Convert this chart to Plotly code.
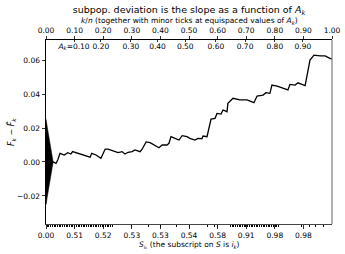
import plotly.graph_objects as go

# ---- data ----
kn = [0.0, 0.0234, 0.035, 0.041, 0.049, 0.064, 0.076, 0.087, 0.093, 0.111, 0.128, 0.146,
      0.154, 0.160, 0.175, 0.192, 0.207, 0.217, 0.234, 0.252, 0.266, 0.276, 0.287, 0.301,
      0.311, 0.329, 0.336, 0.350, 0.364, 0.381, 0.395, 0.406, 0.423, 0.430, 0.437, 0.451,
      0.465, 0.476, 0.493, 0.503, 0.521, 0.531, 0.545, 0.549, 0.563, 0.577, 0.591, 0.598,
      0.612, 0.619, 0.633, 0.636, 0.654, 0.678, 0.703, 0.727, 0.738, 0.759, 0.769, 0.783,
      0.790, 0.808, 0.829, 0.846, 0.853, 0.871, 0.881, 0.906, 0.923, 0.937, 0.958, 0.976,
      0.993, 1.0]
dev = [0.0, 0.0002, -0.0008, 0.0012, 0.0051, 0.0041, 0.0055, 0.0047, 0.0061, 0.0051, 0.0045,
       0.0035, 0.0028, 0.0051, 0.0041, 0.0022, 0.0076, 0.0076, 0.0065, 0.0055, 0.0061, 0.0047,
       0.0057, 0.0061, 0.0071, 0.0061, 0.0075, 0.0118, 0.0114, 0.0100, 0.0084, 0.0100, 0.0100,
       0.0110, 0.0149, 0.0139, 0.0129, 0.0155, 0.0149, 0.0139, 0.0129, 0.0139, 0.0137, 0.0153,
       0.0149, 0.0253, 0.0257, 0.0286, 0.0282, 0.0306, 0.0296, 0.0345, 0.0375, 0.0365, 0.0365,
       0.0349, 0.0388, 0.0394, 0.0408, 0.0404, 0.0453, 0.0447, 0.0434, 0.0424, 0.0457, 0.0453,
       0.0466, 0.0449, 0.0600, 0.0629, 0.0624, 0.0624, 0.0610, 0.0606]

tri_half_height = 0.025
tri_tip_kn = 0.025

top_ticks = [0.0, 0.1, 0.2, 0.3, 0.4, 0.5, 0.6, 0.7, 0.8, 0.9, 1.0]
top_labels = ["0.00", "0.10", "0.20", "0.30", "0.40", "0.50", "0.60", "0.70", "0.80", "0.90", "1.00"]

bottom_ticks = [0.0, 0.1, 0.2, 0.3, 0.4, 0.5, 0.6, 0.7, 0.8, 0.9]
bottom_labels = ["0.00", "0.51", "0.52", "0.53", "0.53", "0.54", "0.58", "0.91", "0.98", "0.98"]

ak_ticks = [0.098, 0.192, 0.297, 0.39, 0.487, 0.594, 0.696, 0.80, 0.898]
ak_labels = ["<i>A<sub>k</sub></i>=0.10", "0.20", "0.30", "0.40", "0.50", "0.60", "0.70", "0.80", "0.90"]

bottom_minor = [0.004, 0.010, 0.016, 0.022, 0.028, 0.034, 0.040, 0.046, 0.052, 0.058, 0.064,
                0.070, 0.076, 0.082, 0.088, 0.094, 0.100, 0.106, 0.112, 0.118, 0.124, 0.130,
                0.136, 0.142, 0.148, 0.154, 0.160, 0.166, 0.172, 0.178, 0.184, 0.190, 0.196,
                0.202, 0.208, 0.214, 0.220, 0.226, 0.232,
                0.300, 0.357, 0.400, 0.458, 0.503, 0.563, 0.590, 0.600,
                0.645, 0.651, 0.657, 0.663, 0.669, 0.675, 0.681, 0.687, 0.693, 0.699, 0.705,
                0.711, 0.717, 0.723, 0.729, 0.735, 0.741, 0.747, 0.753, 0.759, 0.765, 0.771,
                0.777, 0.783, 0.789, 0.795, 0.801, 0.807, 0.813,
                0.895, 0.923, 0.944, 0.969]

y_ticks = [-0.02, 0.0, 0.02, 0.04, 0.06]

FONT = "DejaVu Sans"
TS = 7.5

fig = go.Figure()
fig.add_trace(go.Scatter(
    x=[0, tri_tip_kn, 0, 0], y=[tri_half_height, 0, -tri_half_height, tri_half_height],
    mode="lines", fill="toself", fillcolor="black",
    line=dict(color="black", width=0.5), hoverinfo="skip", showlegend=False))
fig.add_trace(go.Scatter(x=kn, y=dev, mode="lines",
                         line=dict(color="black", width=1.3), showlegend=False))
# invisible traces to activate the extra top axes
fig.add_trace(go.Scatter(x=[0, 1], y=[0, 0], xaxis="x2", mode="markers",
                         marker=dict(opacity=0), hoverinfo="skip", showlegend=False))
fig.add_trace(go.Scatter(x=[0, 1], y=[0, 0], xaxis="x3", mode="markers",
                         marker=dict(opacity=0), hoverinfo="skip", showlegend=False))

tickfont = dict(family=FONT, size=TS, color="black")

fig.update_layout(
    width=345, height=254,
    margin=dict(l=46, r=13, t=40, b=30),
    paper_bgcolor="white", plot_bgcolor="white",
    font=dict(family=FONT, size=TS, color="black"),
    title=dict(text="subpop. deviation is the slope as a function of <i>A<sub>k</sub></i>",
               font=dict(family=FONT, size=9.5, color="black"),
               x=0.5, xref="paper", xanchor="center", y=1 - 10 / 254, yref="container",
               yanchor="middle"),
    xaxis=dict(range=[0, 1], tickmode="array", tickvals=bottom_ticks, ticktext=bottom_labels,
               ticks="outside", ticklen=3.5, tickwidth=0.8, tickcolor="black", tickangle=0,
               showline=True, linecolor="#444", linewidth=1, showgrid=False, zeroline=False,
               tickfont=tickfont, automargin=False,
               minor=dict(tickmode="array", tickvals=bottom_minor, ticks="outside",
                          ticklen=2, tickwidth=1, tickcolor="black", showgrid=False)),
    xaxis2=dict(range=[0, 1], overlaying="x", side="top", anchor="y",
                tickmode="array", tickvals=top_ticks, ticktext=top_labels,
                ticks="outside", ticklen=3.5, tickwidth=0.8, tickcolor="black", tickangle=0,
                showline=True, linecolor="black", linewidth=1, showgrid=False, zeroline=False,
                tickfont=tickfont, automargin=False),
    xaxis3=dict(range=[0, 1], overlaying="x", side="top", anchor="y",
                tickmode="array", tickvals=ak_ticks, ticktext=ak_labels,
                ticks="inside", ticklen=2, tickwidth=0.8, tickcolor="black", tickangle=0,
                ticklabelposition="inside", showline=False, showgrid=False, zeroline=False,
                tickfont=tickfont, automargin=False),
    yaxis=dict(range=[-0.0365, 0.0718], tickmode="array", tickvals=y_ticks, tickformat=".2f",
               ticks="outside", ticklen=3.5, tickwidth=0.8, tickcolor="black",
               showline=True, linecolor="black", linewidth=1, showgrid=False, zeroline=False,
               tickfont=tickfont, automargin=False),
    annotations=[
        dict(text="<i>k</i>/<i>n</i> (together with minor ticks at equispaced values of <i>A<sub>k</sub></i>)",
             xref="paper", yref="paper", x=0.5, y=(224 - 21) / 184, xanchor="center",
             yanchor="middle", showarrow=False, font=dict(family=FONT, size=7.5, color="black")),
        dict(text="<i>S</i><sub><i>i</i>ₖ</sub> (the subscript on <i>S</i> is <i>i<sub>k</sub></i>)",
             xref="paper", yref="paper", x=0.5, y=(224 - 245) / 184, xanchor="center",
             yanchor="middle", showarrow=False, font=dict(family=FONT, size=7.5, color="black")),
        dict(text="<i>F<sub>k</sub></i> − <i>F̃<sub>k</sub></i>",
             xref="paper", yref="paper", x=(11 - 46) / 286, y=0.5, xanchor="center",
             yanchor="middle", textangle=-90, showarrow=False,
             font=dict(family=FONT, size=8, color="black")),
    ],
    shapes=[dict(type="line", xref="paper", yref="paper", x0=1, x1=1, y0=0, y1=1,
                 line=dict(color="#888", width=1.3))],
)

fig.write_html("out.html",
               config={"displayModeBar": False, "staticPlot": True},
               post_script="document.body.style.margin='0';document.body.style.padding='0';")
